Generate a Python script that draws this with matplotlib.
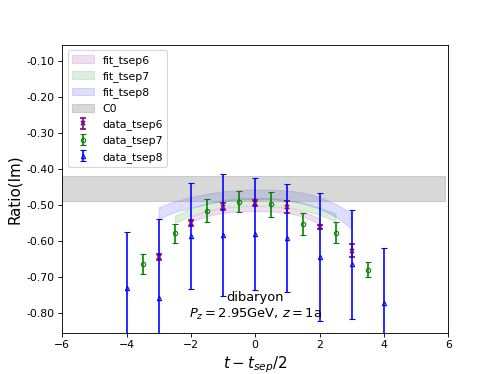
import numpy as np
import matplotlib
matplotlib.use("Agg")
import matplotlib.pyplot as plt
from matplotlib.ticker import FormatStrFormatter

# data points
x6 = [-3, -2, -1, 0, 1, 2, 3]
y6 = [-0.645, -0.551, -0.505, -0.495, -0.505, -0.562, -0.627]
e6 = [0.008, 0.008, 0.010, 0.008, 0.017, 0.006, 0.019]

x7 = [-3.5, -2.5, -1.5, -0.5, 0.5, 1.5, 2.5, 3.5]
y7 = [-0.665, -0.579, -0.516, -0.491, -0.498, -0.554, -0.577, -0.680]
e7 = [0.027, 0.026, 0.031, 0.029, 0.035, 0.031, 0.028, 0.022]

x8 = [-4, -3, -2, -1, 0, 1, 2, 3, 4]
y8 = [-0.732, -0.759, -0.586, -0.584, -0.581, -0.591, -0.644, -0.665, -0.774]
e8 = [0.157, 0.22, 0.148, 0.17, 0.157, 0.15, 0.178, 0.152, 0.153]

# fit bands (center, half width)
fx6 = [-2, -1.5, -1, -0.5, 0, 0.5, 1, 1.5, 2]
fy6 = [-0.540, -0.524, -0.515, -0.511, -0.510, -0.511, -0.515, -0.526, -0.545]
fe6 = [0.007, 0.007, 0.007, 0.007, 0.007, 0.007, 0.007, 0.007, 0.008]

fx7 = [-2.5, -2, -1.5, -1, -0.5, 0, 0.5, 1, 1.5, 2, 2.5]
fy7 = [-0.540, -0.520, -0.505, -0.496, -0.491, -0.490, -0.491, -0.496, -0.505, -0.518, -0.535]
fe7 = [0.010, 0.010, 0.010, 0.010, 0.010, 0.010, 0.010, 0.010, 0.010, 0.010, 0.011]

fx8 = [-3, -2.5, -2, -1.5, -1, -0.5, 0, 0.5, 1, 1.5, 2, 2.5, 3]
fy8 = [-0.522, -0.505, -0.493, -0.483, -0.476, -0.472, -0.470, -0.471, -0.474, -0.481, -0.494, -0.515, -0.545]
fe8 = [0.016, 0.015, 0.015, 0.014, 0.014, 0.013, 0.013, 0.013, 0.014, 0.015, 0.016, 0.018, 0.021]

c0 = -0.4535
c0_err = 0.0345
c0_x = [-6, 5.9]

fig, ax = plt.subplots(figsize=(498 / 78, 374 / 78), dpi=78)

for fx, fy, fe, col, lab in [(fx6, fy6, fe6, 'purple', 'fit_tsep6'),
                             (fx7, fy7, fe7, 'green', 'fit_tsep7'),
                             (fx8, fy8, fe8, 'blue', 'fit_tsep8')]:
    fy = np.array(fy)
    fe = np.array(fe)
    ax.fill_between(fx, fy - fe, fy + fe, color=col, alpha=0.13, label=lab)

ax.fill_between(c0_x, [c0 - c0_err] * 2, [c0 + c0_err] * 2,
                color='grey', alpha=0.3, label='C0')

ax.errorbar(x6, y6, yerr=e6, fmt='x', color='purple', capsize=3,
            markersize=4, mew=1.5, label='data_tsep6')
ax.errorbar(x7, y7, yerr=e7, fmt='o', color='green', mfc='none',
            capsize=3, markersize=4, label='data_tsep7')
ax.errorbar(x8, y8, yerr=e8, fmt='^', color='blue', mfc='none',
            capsize=3, markersize=4, elinewidth=1.5, label='data_tsep8')

ax.text(0, -0.783, 'dibaryon\n$P_z = 2.95$GeV, $z = 1$a', fontsize=12,
        ha='center', va='center')

ax.set_xlim(-6, 6)
ax.set_ylim(-0.856, -0.055)
ax.yaxis.set_major_formatter(FormatStrFormatter('%.2f'))
ax.set_xlabel('$t - t_{sep}/2$', fontsize=14)
ax.set_ylabel('Ratio(Im)', fontsize=14)
ax.legend(loc='upper left')

fig.savefig('out.png')
